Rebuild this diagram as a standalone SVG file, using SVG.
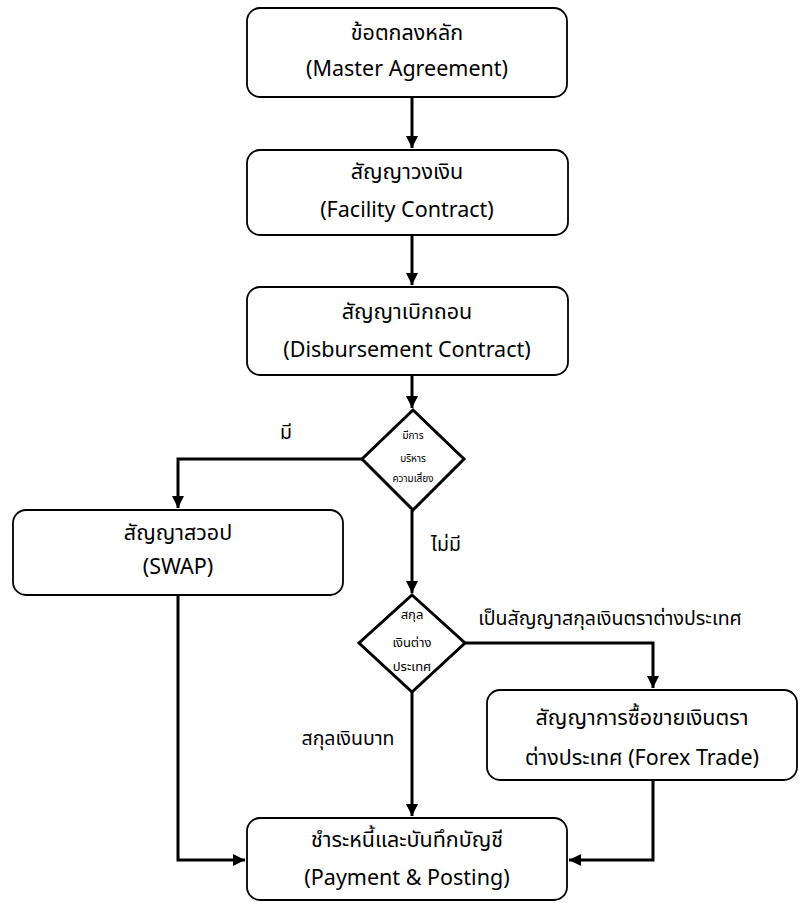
<svg xmlns="http://www.w3.org/2000/svg" width="807" height="903" viewBox="0 0 807 903">
<style>
.box{fill:#fff;stroke:#000;stroke-width:1.8}
.dia{fill:#fff;stroke:#000;stroke-width:3}
.t{font-family:"Noto Sans Thai","Leelawadee UI",Tahoma,"DejaVu Sans","Noto Sans",sans-serif;font-size:21.5px;fill:#000;text-anchor:middle}
.s{font-family:"Noto Sans Thai","Leelawadee UI",Tahoma,"DejaVu Sans","Noto Sans",sans-serif;font-size:10px;fill:#000;text-anchor:middle}
.s2{font-family:"Noto Sans Thai","Leelawadee UI",Tahoma,"DejaVu Sans","Noto Sans",sans-serif;font-size:13px;fill:#000;text-anchor:middle}
.l{font-family:"Noto Sans Thai","Leelawadee UI",Tahoma,"DejaVu Sans","Noto Sans",sans-serif;font-size:19.5px;fill:#000;text-anchor:middle}
.c{fill:none;stroke:#000;stroke-width:3}
</style>
<defs>
<marker id="ah" viewBox="0 0 10 10" refX="10" refY="5" markerWidth="4" markerHeight="4" orient="auto" markerUnits="strokeWidth">
<path d="M0,0 L10,5 L0,10 z" fill="#000"/>
</marker>
</defs>
<rect width="807" height="903" fill="#fff"/>
<g id="connectors">
<path class="c" d="M412,97 V148" marker-end="url(#ah)"/>
<path class="c" d="M412,235 V285" marker-end="url(#ah)"/>
<path class="c" d="M412,375 V408" marker-end="url(#ah)"/>
<path class="c" d="M362,459 H178 V508" marker-end="url(#ah)"/>
<path class="c" d="M412,510 V593" marker-end="url(#ah)"/>
<path class="c" d="M465,643 H653 V688" marker-end="url(#ah)"/>
<path class="c" d="M412,692 V816" marker-end="url(#ah)"/>
<path class="c" d="M178,595 V860 H245" marker-end="url(#ah)"/>
<path class="c" d="M653,780 V860 H569" marker-end="url(#ah)"/>
<text class="l" x="286" y="439">มี</text>
<text class="l" x="446" y="551">ไม่มี</text>
<text class="l" x="610" y="625">เป็นสัญญาสกุลเงินตราต่างประเทศ</text>
<text class="l" x="348" y="745">สกุลเงินบาท</text>
</g>
<g id="master">
<rect class="box" x="247" y="8" width="320" height="89" rx="13"/>
<text class="t" x="407" y="40">ข้อตกลงหลัก</text>
<text class="t" x="407" y="76">(Master Agreement)</text>
</g>
<g id="facility">
<rect class="box" x="247" y="150" width="321" height="85" rx="13"/>
<text class="t" x="407" y="179">สัญญาวงเงิน</text>
<text class="t" x="407" y="217">(Facility Contract)</text>
</g>
<g id="disbursement">
<rect class="box" x="247" y="287" width="321" height="88" rx="13"/>
<text class="t" x="407" y="319">สัญญาเบิกถอน</text>
<text class="t" x="407" y="357">(Disbursement Contract)</text>
</g>
<g id="risk">
<polygon class="dia" points="413,410 464,459 413,510 362,459"/>
<text class="s" x="413" y="439">มีการ</text>
<text class="s" x="413" y="462">บริหาร</text>
<text class="s" x="413" y="482">ความเสี่ยง</text>
</g>
<g id="swap">
<rect class="box" x="13" y="510" width="330" height="85" rx="13"/>
<text class="t" x="178" y="540">สัญญาสวอป</text>
<text class="t" x="178" y="574">(SWAP)</text>
</g>
<g id="currency">
<polygon class="dia" points="412,595 465,643 412,692 359,643"/>
<text class="s2" x="412" y="619">สกุล</text>
<text class="s2" x="412" y="647">เงินต่าง</text>
<text class="s2" x="412" y="671">ประเทศ</text>
</g>
<g id="forex">
<rect class="box" x="487" y="690" width="310" height="90" rx="13"/>
<text class="t" x="642" y="725">สัญญาการซื้อขายเงินตรา</text>
<text class="t" x="642" y="765">ต่างประเทศ (Forex Trade)</text>
</g>
<g id="payment">
<rect class="box" x="247" y="818" width="320" height="82" rx="13"/>
<text class="t" x="407" y="847">ชำระหนี้และบันทึกบัญชี</text>
<text class="t" x="407" y="885">(Payment &amp; Posting)</text>
</g>
</svg>
